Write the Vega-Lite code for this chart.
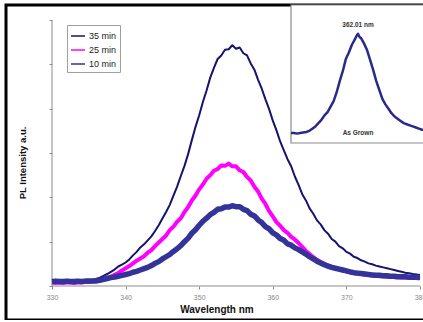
{
"$schema": "https://vega.github.io/schema/vega-lite/v6.json",
"width": 421, "height": 315,
"autosize": {"type": "none"},
"padding": {"left": 6, "top": 5, "right": 0, "bottom": 0},
"background": "white",
"config": {"view": {"stroke": "black", "strokeWidth": 3}, "font": "Liberation Sans"},
"datasets": {
"main": [
{"s":"35 min","nm":330,"v":0.09},{"s":"35 min","nm":330.5,"v":0.10},{"s":"35 min","nm":331,"v":0.09},{"s":"35 min","nm":331.5,"v":0.10},{"s":"35 min","nm":332,"v":0.09},{"s":"35 min","nm":332.5,"v":0.10},{"s":"35 min","nm":333,"v":0.10},{"s":"35 min","nm":333.5,"v":0.10},{"s":"35 min","nm":334,"v":0.11},{"s":"35 min","nm":334.5,"v":0.11},{"s":"35 min","nm":335,"v":0.12},{"s":"35 min","nm":335.5,"v":0.14},{"s":"35 min","nm":336,"v":0.16},{"s":"35 min","nm":336.5,"v":0.19},{"s":"35 min","nm":337,"v":0.23},{"s":"35 min","nm":337.5,"v":0.27},{"s":"35 min","nm":338,"v":0.32},{"s":"35 min","nm":338.5,"v":0.37},{"s":"35 min","nm":339,"v":0.44},{"s":"35 min","nm":339.5,"v":0.48},{"s":"35 min","nm":340,"v":0.53},{"s":"35 min","nm":340.5,"v":0.60},{"s":"35 min","nm":341,"v":0.69},{"s":"35 min","nm":341.5,"v":0.77},{"s":"35 min","nm":342,"v":0.87},{"s":"35 min","nm":342.5,"v":0.94},{"s":"35 min","nm":343,"v":1.03},{"s":"35 min","nm":343.5,"v":1.12},{"s":"35 min","nm":344,"v":1.24},{"s":"35 min","nm":344.5,"v":1.37},{"s":"35 min","nm":345,"v":1.52},{"s":"35 min","nm":345.5,"v":1.67},{"s":"35 min","nm":346,"v":1.83},{"s":"35 min","nm":346.5,"v":2.04},{"s":"35 min","nm":347,"v":2.24},{"s":"35 min","nm":347.5,"v":2.48},{"s":"35 min","nm":348,"v":2.71},{"s":"35 min","nm":348.5,"v":2.98},{"s":"35 min","nm":349,"v":3.29},{"s":"35 min","nm":349.5,"v":3.59},{"s":"35 min","nm":350,"v":3.85},{"s":"35 min","nm":350.5,"v":4.15},{"s":"35 min","nm":351,"v":4.41},{"s":"35 min","nm":351.5,"v":4.70},{"s":"35 min","nm":352,"v":4.92},{"s":"35 min","nm":352.5,"v":5.12},{"s":"35 min","nm":353,"v":5.20},{"s":"35 min","nm":353.5,"v":5.33},{"s":"35 min","nm":354,"v":5.34},{"s":"35 min","nm":354.5,"v":5.43},{"s":"35 min","nm":355,"v":5.35},{"s":"35 min","nm":355.5,"v":5.38},{"s":"35 min","nm":356,"v":5.25},{"s":"35 min","nm":356.5,"v":5.20},{"s":"35 min","nm":357,"v":5.02},{"s":"35 min","nm":357.5,"v":4.88},{"s":"35 min","nm":358,"v":4.65},{"s":"35 min","nm":358.5,"v":4.45},{"s":"35 min","nm":359,"v":4.21},{"s":"35 min","nm":359.5,"v":3.99},{"s":"35 min","nm":360,"v":3.73},{"s":"35 min","nm":360.5,"v":3.51},{"s":"35 min","nm":361,"v":3.26},{"s":"35 min","nm":361.5,"v":3.06},{"s":"35 min","nm":362,"v":2.86},{"s":"35 min","nm":362.5,"v":2.70},{"s":"35 min","nm":363,"v":2.47},{"s":"35 min","nm":363.5,"v":2.28},{"s":"35 min","nm":364,"v":2.07},{"s":"35 min","nm":364.5,"v":1.93},{"s":"35 min","nm":365,"v":1.75},{"s":"35 min","nm":365.5,"v":1.63},{"s":"35 min","nm":366,"v":1.48},{"s":"35 min","nm":366.5,"v":1.39},{"s":"35 min","nm":367,"v":1.26},{"s":"35 min","nm":367.5,"v":1.18},{"s":"35 min","nm":368,"v":1.06},{"s":"35 min","nm":368.5,"v":1.00},{"s":"35 min","nm":369,"v":0.90},{"s":"35 min","nm":369.5,"v":0.85},{"s":"35 min","nm":370,"v":0.77},{"s":"35 min","nm":370.5,"v":0.73},{"s":"35 min","nm":371,"v":0.66},{"s":"35 min","nm":371.5,"v":0.63},{"s":"35 min","nm":372,"v":0.58},{"s":"35 min","nm":372.5,"v":0.55},{"s":"35 min","nm":373,"v":0.51},{"s":"35 min","nm":373.5,"v":0.49},{"s":"35 min","nm":374,"v":0.46},{"s":"35 min","nm":374.5,"v":0.44},{"s":"35 min","nm":375,"v":0.42},{"s":"35 min","nm":375.5,"v":0.40},{"s":"35 min","nm":376,"v":0.38},{"s":"35 min","nm":376.5,"v":0.36},{"s":"35 min","nm":377,"v":0.34},{"s":"35 min","nm":377.5,"v":0.32},{"s":"35 min","nm":378,"v":0.30},{"s":"35 min","nm":378.5,"v":0.29},{"s":"35 min","nm":379,"v":0.27},{"s":"35 min","nm":379.5,"v":0.26},{"s":"35 min","nm":380,"v":0.25},
{"s":"25 min","nm":330,"v":0.08},{"s":"25 min","nm":330.5,"v":0.07},{"s":"25 min","nm":331,"v":0.08},{"s":"25 min","nm":331.5,"v":0.07},{"s":"25 min","nm":332,"v":0.08},{"s":"25 min","nm":332.5,"v":0.08},{"s":"25 min","nm":333,"v":0.07},{"s":"25 min","nm":333.5,"v":0.08},{"s":"25 min","nm":334,"v":0.08},{"s":"25 min","nm":334.5,"v":0.09},{"s":"25 min","nm":335,"v":0.09},{"s":"25 min","nm":335.5,"v":0.10},{"s":"25 min","nm":336,"v":0.10},{"s":"25 min","nm":336.5,"v":0.12},{"s":"25 min","nm":337,"v":0.14},{"s":"25 min","nm":337.5,"v":0.18},{"s":"25 min","nm":338,"v":0.21},{"s":"25 min","nm":338.5,"v":0.25},{"s":"25 min","nm":339,"v":0.29},{"s":"25 min","nm":339.5,"v":0.35},{"s":"25 min","nm":340,"v":0.40},{"s":"25 min","nm":340.5,"v":0.45},{"s":"25 min","nm":341,"v":0.51},{"s":"25 min","nm":341.5,"v":0.57},{"s":"25 min","nm":342,"v":0.62},{"s":"25 min","nm":342.5,"v":0.67},{"s":"25 min","nm":343,"v":0.75},{"s":"25 min","nm":343.5,"v":0.81},{"s":"25 min","nm":344,"v":0.90},{"s":"25 min","nm":344.5,"v":0.98},{"s":"25 min","nm":345,"v":1.06},{"s":"25 min","nm":345.5,"v":1.14},{"s":"25 min","nm":346,"v":1.26},{"s":"25 min","nm":346.5,"v":1.34},{"s":"25 min","nm":347,"v":1.45},{"s":"25 min","nm":347.5,"v":1.53},{"s":"25 min","nm":348,"v":1.67},{"s":"25 min","nm":348.5,"v":1.78},{"s":"25 min","nm":349,"v":1.93},{"s":"25 min","nm":349.5,"v":2.04},{"s":"25 min","nm":350,"v":2.18},{"s":"25 min","nm":350.5,"v":2.29},{"s":"25 min","nm":351,"v":2.42},{"s":"25 min","nm":351.5,"v":2.50},{"s":"25 min","nm":352,"v":2.60},{"s":"25 min","nm":352.5,"v":2.64},{"s":"25 min","nm":353,"v":2.72},{"s":"25 min","nm":353.5,"v":2.71},{"s":"25 min","nm":354,"v":2.76},{"s":"25 min","nm":354.5,"v":2.70},{"s":"25 min","nm":355,"v":2.70},{"s":"25 min","nm":355.5,"v":2.61},{"s":"25 min","nm":356,"v":2.57},{"s":"25 min","nm":356.5,"v":2.46},{"s":"25 min","nm":357,"v":2.38},{"s":"25 min","nm":357.5,"v":2.24},{"s":"25 min","nm":358,"v":2.13},{"s":"25 min","nm":358.5,"v":1.97},{"s":"25 min","nm":359,"v":1.85},{"s":"25 min","nm":359.5,"v":1.69},{"s":"25 min","nm":360,"v":1.57},{"s":"25 min","nm":360.5,"v":1.44},{"s":"25 min","nm":361,"v":1.36},{"s":"25 min","nm":361.5,"v":1.26},{"s":"25 min","nm":362,"v":1.20},{"s":"25 min","nm":362.5,"v":1.11},{"s":"25 min","nm":363,"v":1.05},{"s":"25 min","nm":363.5,"v":0.97},{"s":"25 min","nm":364,"v":0.88},{"s":"25 min","nm":364.5,"v":0.79},{"s":"25 min","nm":365,"v":0.72},{"s":"25 min","nm":365.5,"v":0.65},{"s":"25 min","nm":366,"v":0.59},{"s":"25 min","nm":366.5,"v":0.54},{"s":"25 min","nm":367,"v":0.50},{"s":"25 min","nm":367.5,"v":0.46},{"s":"25 min","nm":368,"v":0.43},{"s":"25 min","nm":368.5,"v":0.40},{"s":"25 min","nm":369,"v":0.37},{"s":"25 min","nm":369.5,"v":0.35},{"s":"25 min","nm":370,"v":0.33},{"s":"25 min","nm":370.5,"v":0.31},{"s":"25 min","nm":371,"v":0.29},{"s":"25 min","nm":371.5,"v":0.28},{"s":"25 min","nm":372,"v":0.27},{"s":"25 min","nm":372.5,"v":0.26},{"s":"25 min","nm":373,"v":0.25},{"s":"25 min","nm":373.5,"v":0.24},{"s":"25 min","nm":374,"v":0.23},{"s":"25 min","nm":374.5,"v":0.22},{"s":"25 min","nm":375,"v":0.22},{"s":"25 min","nm":375.5,"v":0.21},{"s":"25 min","nm":376,"v":0.21},{"s":"25 min","nm":376.5,"v":0.20},{"s":"25 min","nm":377,"v":0.20},{"s":"25 min","nm":377.5,"v":0.19},{"s":"25 min","nm":378,"v":0.19},{"s":"25 min","nm":378.5,"v":0.18},{"s":"25 min","nm":379,"v":0.18},{"s":"25 min","nm":379.5,"v":0.18},{"s":"25 min","nm":380,"v":0.17},
{"s":"10 min","nm":330,"v":0.10},{"s":"10 min","nm":330.5,"v":0.11},{"s":"10 min","nm":331,"v":0.10},{"s":"10 min","nm":331.5,"v":0.10},{"s":"10 min","nm":332,"v":0.11},{"s":"10 min","nm":332.5,"v":0.10},{"s":"10 min","nm":333,"v":0.10},{"s":"10 min","nm":333.5,"v":0.11},{"s":"10 min","nm":334,"v":0.10},{"s":"10 min","nm":334.5,"v":0.11},{"s":"10 min","nm":335,"v":0.11},{"s":"10 min","nm":335.5,"v":0.11},{"s":"10 min","nm":336,"v":0.12},{"s":"10 min","nm":336.5,"v":0.13},{"s":"10 min","nm":337,"v":0.15},{"s":"10 min","nm":337.5,"v":0.17},{"s":"10 min","nm":338,"v":0.19},{"s":"10 min","nm":338.5,"v":0.20},{"s":"10 min","nm":339,"v":0.22},{"s":"10 min","nm":339.5,"v":0.24},{"s":"10 min","nm":340,"v":0.26},{"s":"10 min","nm":340.5,"v":0.28},{"s":"10 min","nm":341,"v":0.31},{"s":"10 min","nm":341.5,"v":0.33},{"s":"10 min","nm":342,"v":0.36},{"s":"10 min","nm":342.5,"v":0.39},{"s":"10 min","nm":343,"v":0.42},{"s":"10 min","nm":343.5,"v":0.46},{"s":"10 min","nm":344,"v":0.51},{"s":"10 min","nm":344.5,"v":0.55},{"s":"10 min","nm":345,"v":0.61},{"s":"10 min","nm":345.5,"v":0.66},{"s":"10 min","nm":346,"v":0.71},{"s":"10 min","nm":346.5,"v":0.78},{"s":"10 min","nm":347,"v":0.84},{"s":"10 min","nm":347.5,"v":0.91},{"s":"10 min","nm":348,"v":1.00},{"s":"10 min","nm":348.5,"v":1.08},{"s":"10 min","nm":349,"v":1.19},{"s":"10 min","nm":349.5,"v":1.27},{"s":"10 min","nm":350,"v":1.37},{"s":"10 min","nm":350.5,"v":1.46},{"s":"10 min","nm":351,"v":1.53},{"s":"10 min","nm":351.5,"v":1.61},{"s":"10 min","nm":352,"v":1.66},{"s":"10 min","nm":352.5,"v":1.73},{"s":"10 min","nm":353,"v":1.74},{"s":"10 min","nm":353.5,"v":1.78},{"s":"10 min","nm":354,"v":1.78},{"s":"10 min","nm":354.5,"v":1.81},{"s":"10 min","nm":355,"v":1.79},{"s":"10 min","nm":355.5,"v":1.79},{"s":"10 min","nm":356,"v":1.73},{"s":"10 min","nm":356.5,"v":1.70},{"s":"10 min","nm":357,"v":1.62},{"s":"10 min","nm":357.5,"v":1.58},{"s":"10 min","nm":358,"v":1.49},{"s":"10 min","nm":358.5,"v":1.43},{"s":"10 min","nm":359,"v":1.34},{"s":"10 min","nm":359.5,"v":1.29},{"s":"10 min","nm":360,"v":1.20},{"s":"10 min","nm":360.5,"v":1.15},{"s":"10 min","nm":361,"v":1.07},{"s":"10 min","nm":361.5,"v":1.03},{"s":"10 min","nm":362,"v":0.95},{"s":"10 min","nm":362.5,"v":0.92},{"s":"10 min","nm":363,"v":0.86},{"s":"10 min","nm":363.5,"v":0.82},{"s":"10 min","nm":364,"v":0.77},{"s":"10 min","nm":364.5,"v":0.72},{"s":"10 min","nm":365,"v":0.66},{"s":"10 min","nm":365.5,"v":0.61},{"s":"10 min","nm":366,"v":0.56},{"s":"10 min","nm":366.5,"v":0.52},{"s":"10 min","nm":367,"v":0.48},{"s":"10 min","nm":367.5,"v":0.45},{"s":"10 min","nm":368,"v":0.42},{"s":"10 min","nm":368.5,"v":0.40},{"s":"10 min","nm":369,"v":0.38},{"s":"10 min","nm":369.5,"v":0.36},{"s":"10 min","nm":370,"v":0.34},{"s":"10 min","nm":370.5,"v":0.32},{"s":"10 min","nm":371,"v":0.30},{"s":"10 min","nm":371.5,"v":0.29},{"s":"10 min","nm":372,"v":0.28},{"s":"10 min","nm":372.5,"v":0.27},{"s":"10 min","nm":373,"v":0.26},{"s":"10 min","nm":373.5,"v":0.25},{"s":"10 min","nm":374,"v":0.24},{"s":"10 min","nm":374.5,"v":0.24},{"s":"10 min","nm":375,"v":0.23},{"s":"10 min","nm":375.5,"v":0.23},{"s":"10 min","nm":376,"v":0.22},{"s":"10 min","nm":376.5,"v":0.22},{"s":"10 min","nm":377,"v":0.21},{"s":"10 min","nm":377.5,"v":0.21},{"s":"10 min","nm":378,"v":0.21},{"s":"10 min","nm":378.5,"v":0.20},{"s":"10 min","nm":379,"v":0.20},{"s":"10 min","nm":379.5,"v":0.20},{"s":"10 min","nm":380,"v":0.20}
],
"inset": [
{"nm":340,"v":0.09},{"nm":341,"v":0.09},{"nm":342,"v":0.085},{"nm":343,"v":0.09},{"nm":344,"v":0.095},{"nm":345,"v":0.10},{"nm":346,"v":0.11},{"nm":347,"v":0.13},{"nm":348,"v":0.15},{"nm":349,"v":0.18},{"nm":350,"v":0.21},{"nm":351,"v":0.25},{"nm":352,"v":0.28},{"nm":353,"v":0.33},{"nm":354,"v":0.38},{"nm":355,"v":0.46},{"nm":356,"v":0.56},{"nm":357,"v":0.65},{"nm":358,"v":0.76},{"nm":359,"v":0.82},{"nm":360,"v":0.89},{"nm":361,"v":0.94},{"nm":361.5,"v":0.97},{"nm":362,"v":0.99},{"nm":362.5,"v":0.96},{"nm":363,"v":0.95},{"nm":364,"v":0.90},{"nm":365,"v":0.84},{"nm":366,"v":0.75},{"nm":367,"v":0.66},{"nm":368,"v":0.56},{"nm":369,"v":0.48},{"nm":370,"v":0.40},{"nm":371,"v":0.35},{"nm":372,"v":0.31},{"nm":373,"v":0.27},{"nm":374,"v":0.24},{"nm":375,"v":0.22},{"nm":376,"v":0.20},{"nm":377,"v":0.18},{"nm":378,"v":0.17},{"nm":379,"v":0.16},{"nm":380,"v":0.15},{"nm":381,"v":0.14},{"nm":382,"v":0.13},{"nm":383,"v":0.12},{"nm":384,"v":0.12}
]
},
"layer": [
{
"encoding": {
"x": {"field": "nm", "type": "quantitative", "scale": {"domain": [323.75, 380.95], "nice": false, "zero": false},
 "axis": {"title": "Wavelength nm", "values": [330,340,350,360,370,380], "offset": -34, "domain": false, "grid": false, "tickSize": 3, "tickColor": "#8c8c8c", "labelFontSize": 7, "labelColor": "#888888", "labelPadding": 4, "labelFlush": false, "titleFontSize": 10, "titleFontWeight": "bold", "titleColor": "#111111", "titlePadding": 4}},
"y": {"field": "v", "type": "quantitative", "scale": {"domain": [-0.767, 6.338], "nice": false, "zero": false},
 "axis": {"title": "PL Intensity a.u.", "values": [0,1,2,3,4,5,6], "offset": -46, "domain": false, "grid": false, "labels": false, "tickSize": 3, "tickColor": "#8c8c8c", "titleFontSize": 9.5, "titleFontWeight": "bold", "titleColor": "#111111", "titlePadding": 21}}
},
"layer": [
{"data": {"values": [{"nm": 330, "nm2": 380, "v": 0}]}, "mark": {"type": "rule", "color": "#8c8c8c", "strokeWidth": 1}, "encoding": {"x2": {"field": "nm2"}}},
{"data": {"values": [{"nm": 330, "v": 0, "v2": 6}]}, "mark": {"type": "rule", "color": "#8c8c8c", "strokeWidth": 1}, "encoding": {"y2": {"field": "v2"}}},
{"data": {"name": "main"}, "transform": [{"filter": "datum.s == '35 min'"}], "mark": {"type": "line", "strokeWidth": 2, "strokeJoin": "round"},
 "encoding": {"color": {"field": "s", "type": "nominal", "scale": {"domain": ["35 min", "25 min", "10 min"], "range": ["#14146e", "#ff00ff", "#333399"]},
  "legend": {"orient": "none", "legendX": 61, "legendY": 20, "title": null, "symbolType": "stroke", "symbolSize": 196, "symbolStrokeWidth": 1.5, "labelFontSize": 9, "labelColor": "#222222", "strokeColor": "#a0a0a0", "fillColor": "white", "padding": 3, "rowPadding": 1, "labelOffset": 3}}}},
{"data": {"name": "main"}, "transform": [{"filter": "datum.s == '25 min'"}], "mark": {"type": "line", "strokeWidth": 4, "strokeJoin": "round"},
 "encoding": {"color": {"field": "s", "type": "nominal"}}},
{"data": {"name": "main"}, "transform": [{"filter": "datum.s == '10 min'"}], "mark": {"type": "line", "strokeWidth": 5.5, "strokeJoin": "round"},
 "encoding": {"color": {"field": "s", "type": "nominal"}}}
]
},
{
"data": {"name": "inset"},
"encoding": {
"x": {"field": "nm", "type": "quantitative", "scale": {"domain": [340, 384], "range": [285, 419], "nice": false, "zero": false}, "axis": null},
"y": {"field": "v", "type": "quantitative", "scale": {"domain": [0, 1.25], "range": [138, 0], "nice": false, "zero": false}, "axis": null}
},
"layer": [
{"data": {"values": [{"nm": 340, "nm2": 384, "v": 0, "v2": 1.25}]}, "mark": {"type": "rect", "fill": "white", "stroke": "#8c8c8c", "strokeWidth": 1.2}, "encoding": {"x2": {"field": "nm2"}, "y2": {"field": "v2"}}},
{"mark": {"type": "line", "color": "#2a2a8a", "strokeWidth": 2.5, "strokeJoin": "round"}},
{"data": {"values": [{"nm": 362, "v": 1.07, "t": "362.01 nm"}, {"nm": 362, "v": 0.09, "t": "As Grown"}]}, "mark": {"type": "text", "fontSize": 6.5, "fontWeight": "bold", "color": "#333333"}, "encoding": {"text": {"field": "t"}}}
]
}
],
"resolve": {"scale": {"x": "independent", "y": "independent"}}
}
